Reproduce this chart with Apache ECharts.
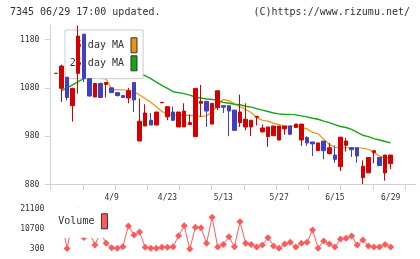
<!DOCTYPE html>
<html><head><meta charset="utf-8">
<script src="https://cdn.jsdelivr.net/npm/echarts@6/dist/echarts.min.js"></script>
<style>html,body{margin:0;padding:0;background:#fff}#c{width:420px;height:259px}</style>
</head><body><div id="c"></div>
<script>
const categories = ['3/26','3/29','3/30','3/31','4/1','4/2','4/5','4/6','4/7','4/8',
 '4/9','4/12','4/13','4/14','4/15','4/16','4/19','4/20','4/21','4/22',
 '4/23','4/26','4/27','4/28','4/30','5/6','5/7','5/10','5/11','5/12',
 '5/13','5/14','5/17','5/18','5/19','5/20','5/21','5/24','5/25','5/26',
 '5/27','5/28','5/31','6/2','6/3','6/4','6/7','6/9','6/11','6/14',
 '6/15','6/16','6/17','6/18','6/21','6/22','6/23','6/24','6/25','6/28','6/29'];
const tickLabels = ['4/9','4/23','5/13','5/27','6/15','6/29'];
const openP  = [1110,1079,1102,1043,1110,1191,1099,1061,1089,1087,1080,1070,1064,1059,1091,970,1001,1013,1003,1049,1020,1030,999,999,1004,979,1048,1052,1005,1039,1043,1043,1034,1008,999,999,1019,989,979,981,972,995,1001,998,972,977,968,950,970,944,941,917,961,956,956,894,904,946,936,904,923];
const closeP = [1110,1125,1060,1079,1187,1099,1063,1089,1060,1091,1070,1064,1060,1074,1055,1011,1028,1003,1030,1050,1041,1013,1030,1032,1008,1079,1052,1032,1048,1074,1040,1032,992,1030,1015,1013,1021,997,999,1001,1001,1001,984,1005,1005,966,964,966,950,956,932,978,970,952,939,918,936,950,919,941,941];
const lowP   = [1110,1051,1054,1010,1068,1092,1063,1061,1060,1060,1070,1062,1059,1048,1030,970,1001,1003,1003,1049,1013,1011,999,999,1004,979,1020,999,1005,1034,1028,980,992,999,992,980,1002,987,958,981,972,983,982,998,960,960,939,950,932,942,925,908,948,937,925,881,904,924,919,888,912];
const highP  = [1110,1128,1102,1080,1209,1191,1099,1089,1091,1092,1080,1070,1064,1080,1091,1058,1046,1028,1030,1050,1041,1041,1030,1048,1025,1079,1086,1052,1048,1074,1043,1043,1034,1066,1048,1013,1021,1004,999,1001,1001,1001,1001,1005,1005,980,968,966,970,966,961,978,976,956,956,930,936,950,936,941,941];
const ma5  = [null,null,null,null,1112,1101,1100,1101,1100,1098,1077,1076,1076,1075,1072,1065,1058,1050,1041,1031,1025,1023,1023,1023,1023,1022,1021,1022,1030,1044,1056,1053,1047,1041,1035,1029,1018,1013,1011,1007,1004,1001,1001,1001,999,995,988,985,974,963,957,956,956,956,956,955,953,946,939,934,937];
const ma25 = [null,1074,1080,1086,1093,1099,1103,1106,1108,1110,1111,1112,1112,1112,1111,1110,1105,1099,1092,1085,1079,1072,1070,1068,1065,1061,1059,1057,1056,1054,1050,1048,1046,1045,1042,1040,1037,1034,1031,1028,1026,1025,1025,1024,1022,1020,1017,1015,1011,1008,1004,1000,998,994,988,982,979,975,972,969,966];
const volume = [12000,16000,600,15000,20000,6300,9000,2400,9000,3300,900,700,1500,12300,7600,9100,1200,700,700,1200,1200,1500,7200,12400,300,11600,11400,3300,16800,1300,2700,6700,1500,14500,3300,2700,1300,2400,6200,1900,700,2900,3800,1300,3300,3800,10200,700,4500,2900,1300,5500,5900,7100,2400,5000,1900,1300,1300,2700,1300];
const yTicks = [880,980,1080,1180];
const volTicks = [300,10700,21100];

const slots = categories.concat([' ','  ','   ','    ']);
const candles = openP.map((o,i)=>[o, closeP[i], lowP[i], highP[i]]);
const MONO = 'DejaVu Sans Mono';
const AX = '#d2d2d2';
const TXT = '#333';
const plain = v => String(v);

const chart = echarts.init(document.getElementById('c'), null, {renderer:'canvas'});
chart.setOption({
  animation:false,
  backgroundColor:'#fff',
  title:[
    {text:'7345 06/29 17:00 updated.', left:10, top:7, padding:0,
     textStyle:{fontFamily:MONO,fontSize:10,fontWeight:'normal',color:TXT}},
    {text:'(C)https://www.rizumu.net/', right:10, top:7, padding:0,
     textStyle:{fontFamily:MONO,fontSize:10,fontWeight:'normal',color:TXT}}
  ],
  legend:[
    {data:['5-day MA','25-day MA'], orient:'vertical', align:'right', left:65, top:30,
     padding:[7.3,5.6,7.4,4.8], backgroundColor:'#fff', borderColor:'#cccccc', borderWidth:1,
     itemWidth:6, itemHeight:15, itemGap:2, icon:'rect', selectedMode:false, z:4,
     itemStyle:{borderColor:'#333',borderWidth:1},
     textStyle:{fontFamily:MONO,fontSize:10,color:TXT,padding:[0,2,0,0]}},
    {data:['Volume'], orient:'vertical', align:'right', left:50, top:208,
     padding:[5.3,3,8.4,8.3], backgroundColor:'#fff', borderWidth:0,
     itemWidth:6, itemHeight:15, icon:'rect', selectedMode:false, z:4,
     itemStyle:{borderColor:'#333',borderWidth:1},
     textStyle:{fontFamily:MONO,fontSize:10,color:TXT,padding:[0,2,0,0]}}
  ],
  grid:[
    {left:53.1, top:25, width:362.7, height:159.5, outerBoundsMode:'none'},
    {left:50.7, top:25, width:354.3, height:159.5, outerBoundsMode:'none'},
    {left:53.1, top:209, width:362.7, height:40, outerBoundsMode:'none'}
  ],
  xAxis:[
    {type:'category', gridIndex:0, data:slots, boundaryGap:true,
     axisLine:{show:true,lineStyle:{color:AX}}, axisTick:{show:false}, splitLine:{show:false},
     axisLabel:{interval:(i,v)=>tickLabels.includes(v), fontFamily:MONO, fontSize:8, color:TXT, margin:9}},
    {type:'value', gridIndex:1, min:0, max:11, interval:1,
     axisLine:{show:true,lineStyle:{color:AX}}, axisTick:{show:true,length:5,lineStyle:{color:AX}},
     axisLabel:{show:false}, splitLine:{show:false}},
    {type:'category', gridIndex:2, data:slots, boundaryGap:true,
     axisLine:{show:false}, axisTick:{show:false}, axisLabel:{show:false}, splitLine:{show:false}}
  ],
  yAxis:[
    {type:'value', gridIndex:0, min:880, max:1210, interval:100, offset:2.4,
     axisLine:{show:true,lineStyle:{color:AX}},
     axisTick:{show:true,length:6,lineStyle:{color:AX},customValues:yTicks},
     axisLabel:{fontFamily:MONO,fontSize:8,color:TXT,margin:11.4,customValues:yTicks,formatter:plain},
     splitLine:{show:false}},
    {type:'value', gridIndex:1, min:0, max:1, show:false},
    {type:'value', gridIndex:2, min:300, max:21100, interval:10400,
     axisLine:{show:false}, axisTick:{show:false,customValues:volTicks},
     axisLabel:{fontFamily:MONO,fontSize:8,color:TXT,margin:8.8,customValues:volTicks,formatter:plain},
     splitLine:{show:false}}
  ],
  series:[
    {name:'5-day MA', type:'line', xAxisIndex:0, yAxisIndex:0, data:ma5, symbol:'none',
     lineStyle:{color:'#f0900e',width:1.2}, itemStyle:{color:'#f0900e'}, z:2},
    {name:'25-day MA', type:'line', xAxisIndex:0, yAxisIndex:0, data:ma25, symbol:'none',
     lineStyle:{color:'#15a515',width:1.4}, itemStyle:{color:'#15a515'}, z:2},
    {name:'candle', type:'candlestick', xAxisIndex:0, yAxisIndex:0, data:candles, barWidth:4, z:5,
     itemStyle:{color:'#d40000', color0:'#4040c0', borderColor:'#d40000', borderColor0:'#4040c0', borderWidth:1}},
    {name:'Volume', type:'line', xAxisIndex:2, yAxisIndex:2, data:volume,
     symbol:'diamond', symbolSize:7, showSymbol:true, showAllSymbol:true,
     lineStyle:{color:'#ff5a5a',width:1}, itemStyle:{color:'#ff5a5a'}, z:2}
  ]
});
</script></body></html>
